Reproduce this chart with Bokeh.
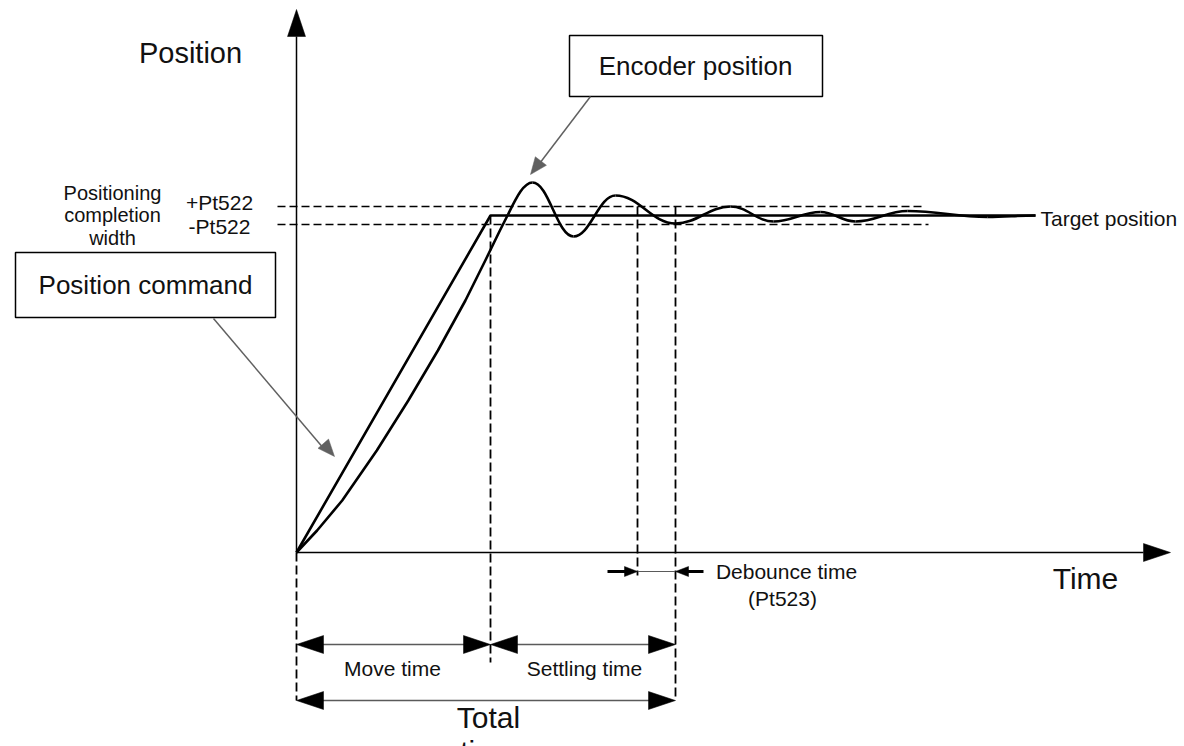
import math
from bokeh.plotting import figure
from bokeh.models import Range1d, Label
from bokeh.embed import file_html
from bokeh.resources import INLINE

# ---------------- data (time units / position units, origin at axis crossing) -------------
# time markers
move_end_t = 194          # end of position command ramp
debounce_start_t = 341    # encoder enters band for the last time
settle_end_t = 379        # positioning completed (after debounce)
end_t = 739               # end of drawn trace

# position levels
target_pos = 337
band_upper = 346          # +Pt522
band_lower = 328          # -Pt522

# position command trace
command_t = [0, move_end_t, end_t]
command_pos = [0, target_pos, target_pos]

# encoder position: ramp part
encoder_ramp_t = [0, 20.6, 45.7, 80.3, 111.8, 141.4, 168.9, 188.8, 203.4, 211.5]
encoder_ramp_pos = [0, 22, 52, 102, 152, 202, 252, 292, 322, 338]

# encoder position: overshoot extremes (peaks / troughs)
encoder_ext_t = [236, 277, 319, 379, 434, 477, 524, 559, 611, 691, end_t]
encoder_ext_pos = [370, 316, 357, 329, 346, 331, 340.5, 331, 341.5, 335.5, target_pos]

# ---------------- layout constants ----------------
FONT = "Liberation Sans"
W, H = 1184, 746
X0, Y0 = -296, -194

p = figure(width=W, height=H, x_range=Range1d(X0, X0 + W), y_range=Range1d(Y0, Y0 + H),
           output_backend="svg", toolbar_location=None, x_axis_type=None, y_axis_type=None,
           min_border=0, tools="")
p.outline_line_color = None
p.background_fill_color = "white"
p.border_fill_color = "white"


def head(tip_x, tip_y, from_x, from_y, length, width, color="black"):
    dx, dy = tip_x - from_x, tip_y - from_y
    d = math.hypot(dx, dy)
    ux, uy = dx / d, dy / d
    bx, by = tip_x - ux * length, tip_y - uy * length
    nx, ny = -uy * width / 2, ux * width / 2
    p.patch([tip_x, bx + nx, bx - nx], [tip_y, by + ny, by - ny],
            fill_color=color, line_color=color, line_width=0.5)


def label(x, y, text, size, align="center"):
    p.add_layout(Label(x=x, y=y, text=text, text_font=FONT, text_font_size=f"{size}px",
                       text_align=align, text_baseline="middle", text_color="#111111"))


# ---------------- axes ----------------
y_axis_top = 543
x_axis_right = 874
p.line([0, 0], [0, y_axis_top - 27], line_color="black", line_width=1.5)
head(0, y_axis_top, 0, 0, 27, 18)
p.line([0, x_axis_right - 27], [0, 0], line_color="black", line_width=1.5)
head(x_axis_right, 0, 0, 0, 27, 18)

# ---------------- band lines ----------------
p.line([-19, 627], [band_upper, band_upper], line_color="black", line_width=1.5, line_dash="8 4")
p.line([-19, 632], [band_lower, band_lower], line_color="black", line_width=1.5, line_dash="8 4")

# ---------------- vertical dashed markers ----------------
p.line([0, 0], [0, -148], line_color="black", line_width=1.8, line_dash="9 4")
p.line([move_end_t, move_end_t], [target_pos, -110], line_color="black", line_width=1.8, line_dash="9 4")
p.line([debounce_start_t, debounce_start_t], [band_upper, -23], line_color="black", line_width=1.8, line_dash="9 4")
p.line([settle_end_t, settle_end_t], [band_upper, -148], line_color="black", line_width=1.8, line_dash="9 4")

# ---------------- traces ----------------
p.line(command_t, command_pos, line_color="black", line_width=2.6)

p.line(encoder_ramp_t, encoder_ramp_pos, line_color="black", line_width=2.6, line_join="round")
# rounding into first peak
rt, rp = encoder_ramp_t[-1], encoder_ramp_pos[-1]
pt, pp = encoder_ext_t[0], encoder_ext_pos[0]
p.bezier(x0=[rt], y0=[rp], x1=[pt], y1=[pp], cx0=[rt + 8], cy0=[rp + 16],
         cx1=[pt - 9], cy1=[pp], line_color="black", line_width=2.6)
# decaying oscillation
k = 0.4
bx0, by0, bx1, by1, cx0, cy0, cx1, cy1 = [], [], [], [], [], [], [], []
for i in range(len(encoder_ext_t) - 1):
    a, b = encoder_ext_t[i], encoder_ext_t[i + 1]
    ya, yb = encoder_ext_pos[i], encoder_ext_pos[i + 1]
    bx0.append(a); by0.append(ya); bx1.append(b); by1.append(yb)
    cx0.append(a + k * (b - a)); cy0.append(ya)
    cx1.append(b - k * (b - a)); cy1.append(yb)
p.bezier(x0=bx0, y0=by0, x1=bx1, y1=by1, cx0=cx0, cy0=cy0, cx1=cx1, cy1=cy1,
         line_color="black", line_width=2.6)

# ---------------- time span arrows ----------------
GRAY = "#5a5a5a"
move_y, total_y = -92, -148
for (a, b, y) in [(0, move_end_t, move_y), (move_end_t, settle_end_t, move_y), (0, settle_end_t, total_y)]:
    p.line([a + 20, b - 20], [y, y], line_color=GRAY, line_width=1.5)
    head(a, y, b, y, 27, 18)
    head(b, y, a, y, 27, 18)

# debounce arrows
deb_y = -19
p.line([debounce_start_t, settle_end_t], [deb_y, deb_y], line_color=GRAY, line_width=1.2)
p.line([311, debounce_start_t - 10], [deb_y, deb_y], line_color="black", line_width=3)
head(debounce_start_t, deb_y, 311, deb_y, 13, 10)
p.line([settle_end_t + 10, 407], [deb_y, deb_y], line_color="black", line_width=3)
head(settle_end_t, deb_y, 407, deb_y, 13, 10)

# ---------------- callout boxes ----------------
p.quad(left=[273], right=[526], top=[517], bottom=[456], fill_color="white",
       line_color="black", line_width=1.5)
p.quad(left=[-281], right=[-21], top=[300], bottom=[235], fill_color="white",
       line_color="black", line_width=1.5)
CALLOUT = "#606060"
p.line([294, 240], [456, 385], line_color=CALLOUT, line_width=1.5)
head(234, 378, 294, 456, 17, 14, CALLOUT)
p.line([-83, 28], [234, 103], line_color=CALLOUT, line_width=1.5)
head(38, 96, -83, 234, 17, 14, CALLOUT)

# ---------------- texts ----------------
label(-106, 500, "Position", 29)
label(789, -26, "Time", 30)
label(399, 487, "Encoder position", 26)
label(-151, 268, "Position command", 26)
label(744, 334, "Target position", 21, align="left")
label(-184, 360, "Positioning", 20)
label(-184, 338, "completion", 20)
label(-184, 315, "width", 20)
label(-77, 350, "+Pt522", 21)
label(-77, 326, "-Pt522", 21)
label(490, -19, "Debounce time", 21)
label(486, -46, "(Pt523)", 21)
label(96, -116, "Move time", 21)
label(288, -116, "Settling time", 21)
label(192, -165, "Total", 30)
label(192, -199, "time", 30)

open("out.html", "w").write(file_html(p, INLINE))
